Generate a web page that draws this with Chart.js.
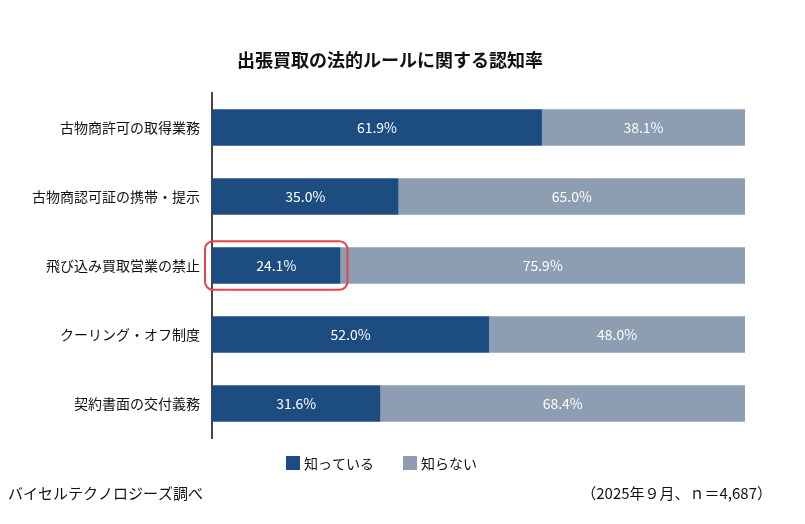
<!DOCTYPE html><html><head><meta charset="utf-8">
<script src="https://cdn.jsdelivr.net/npm/chart.js@4"></script>
<style>html,body{margin:0;background:#fff}#w{width:805px;height:524px}</style></head><body><div id="w"><canvas id="c"></canvas></div>
<script>
const categories=["古物商許可の取得業務","古物商認可証の携帯・提示","飛び込み買取営業の禁止","クーリング・オフ制度","契約書面の交付義務"];
const known=[61.9,35.0,24.1,52.0,31.6];
const unknown=[38.1,65.0,75.9,48.0,68.4];
const seriesNames=["知っている","知らない"];
const title="出張買取の法的ルールに関する認知率";
const source="バイセルテクノロジーズ調べ";
const note="（2025年９月、ｎ＝4,687）";
const highlightIndex=2;
const F="'Noto Sans CJK JP','Noto Sans',sans-serif";
const C1="#1c4c80",C2="#8d9db2";
const deco={id:'deco',afterDatasetsDraw(ch){
 const c=ch.ctx,x=ch.scales.x,y=ch.scales.y;
 c.save();
 c.fillStyle="#fff";c.font="14px "+F;c.textAlign="center";c.textBaseline="middle";
 ch.data.datasets.forEach((ds,di)=>{ch.getDatasetMeta(di).data.forEach((b,i)=>{
  const v=ds.data[i];const s=di==0?0:known[i];
  c.fillText(v.toFixed(1)+"%",x.getPixelForValue(s+v/2),b.y);});});
 const b=ch.getDatasetMeta(0).data[highlightIndex];
 const x0=x.left-7,x1=x.getPixelForValue(known[highlightIndex])+7,y0=b.y-b.height/2-6,y1=b.y+b.height/2+6;
 c.strokeStyle="#e8424a";c.lineWidth=2;c.beginPath();c.roundRect(x0,y0,x1-x0,y1-y0,8);c.stroke();
 c.fillStyle="#111";c.font="bold 18px "+F;c.textAlign="center";c.fillText(title,390,60);
 c.font="14px "+F;c.textAlign="left";
 c.fillStyle=C1;c.fillRect(286,456,14,14);c.fillStyle="#111";c.fillText(seriesNames[0],304,464);
 c.fillStyle=C2;c.fillRect(403,456,14,14);c.fillStyle="#111";c.fillText(seriesNames[1],421,464);
 c.font="15px "+F;c.fillText(source,8,493);c.textAlign="right";c.fillText(note,772,493);
 c.restore();}};
new Chart(document.getElementById('c'),{type:'bar',
 data:{labels:categories,datasets:[{label:seriesNames[0],data:known,backgroundColor:C1},{label:seriesNames[1],data:unknown,backgroundColor:C2}]},
 options:{indexAxis:'y',responsive:true,maintainAspectRatio:false,animation:false,
  layout:{padding:{top:93,bottom:86,right:60,left:0}},
  categoryPercentage:1,barPercentage:0.53,
  plugins:{legend:{display:false},tooltip:{enabled:false}},
  scales:{x:{stacked:true,min:0,max:100,display:false},
   y:{stacked:true,grid:{display:false,drawTicks:false},border:{color:"#444",width:2},
    ticks:{color:"#111",font:{size:14,family:F},padding:12},
    afterFit(s){s.width=212;}}}},
 plugins:[deco]});
</script></body></html>
